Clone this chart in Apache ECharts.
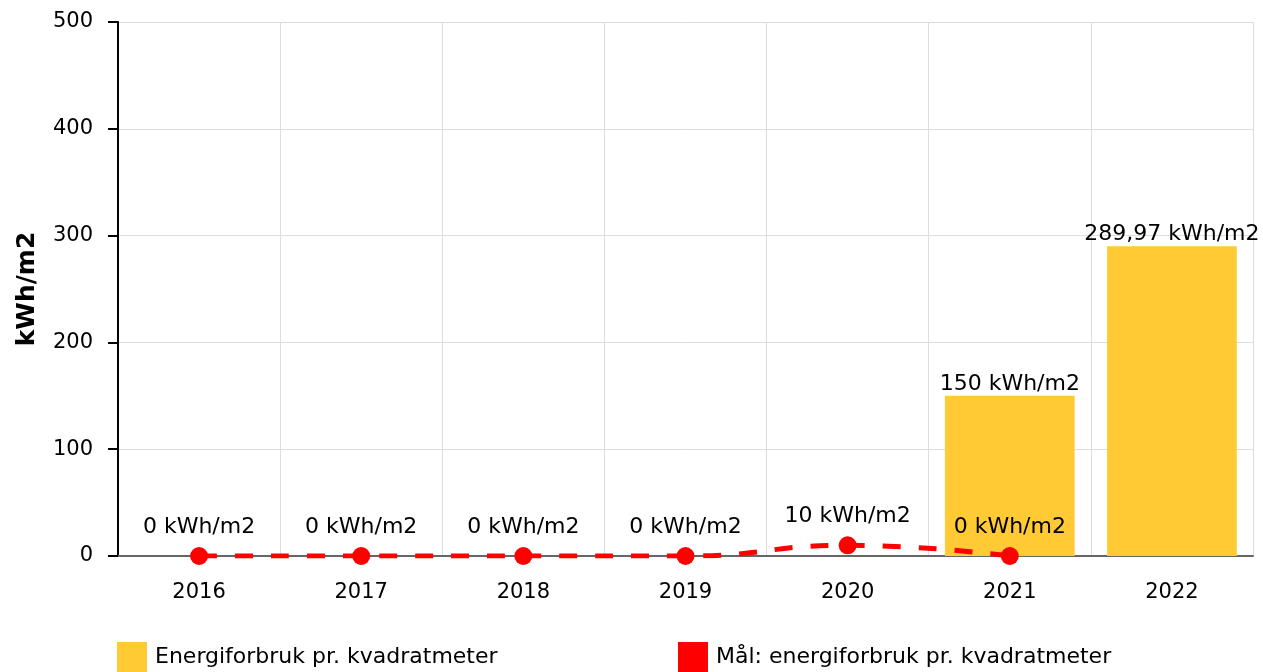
<!DOCTYPE html>
<html>
<head>
<meta charset="utf-8">
<script src="https://cdn.jsdelivr.net/npm/echarts@6/dist/echarts.min.js"></script>
<style>
  html, body { margin: 0; padding: 0; background: #fff; }
  #chart { width: 1263px; height: 672px; }
</style>
</head>
<body>
<div id="chart"></div>
<script>
// years on the x axis
const years = ['2016', '2017', '2018', '2019', '2020', '2021', '2022'];
// energy use per square metre (bars)
const usage = [null, null, null, null, null, 150, 289.97];
// target (dashed line)
const target = [0, 0, 0, 0, 10, 0, null];
const yTicks = [0, 100, 200, 300, 400, 500];

const fmt = v => String(v).replace('.', ',') + ' kWh/m2';
const font = 'DejaVu Sans, Verdana, sans-serif';

const legendBase = {
  top: 642, padding: 0, icon: 'rect', itemWidth: 30, itemHeight: 30,
  textStyle: { fontFamily: font, fontSize: 22, color: '#000', padding: [5, 0, 0, 3] }
};

const chart = echarts.init(document.getElementById('chart'));
chart.setOption({
  animation: false,
  textStyle: { fontFamily: font },
  grid: { left: 118, right: 10, top: 22, bottom: 116 },
  legend: [
    Object.assign({ data: ['Energiforbruk pr. kvadratmeter'], left: 117 }, legendBase),
    Object.assign({ data: ['Mål: energiforbruk pr. kvadratmeter'], left: 678 }, legendBase)
  ],
  xAxis: {
    type: 'category',
    data: years,
    axisLine: { lineStyle: { color: '#666', width: 2 } },
    axisTick: { alignWithLabel: true, length: 8, lineStyle: { color: '#999' } },
    axisLabel: { fontSize: 21, color: '#000', margin: 26 },
    splitLine: { show: true, lineStyle: { color: '#ddd' } }
  },
  yAxis: {
    type: 'value',
    min: yTicks[0], max: yTicks[yTicks.length - 1], interval: 100,
    name: 'kWh/m2',
    nameLocation: 'middle',
    nameGap: 78,
    nameTextStyle: { fontSize: 25, fontWeight: 'bold', color: '#000' },
    axisLine: { show: true, lineStyle: { color: '#000', width: 2 } },
    axisTick: { show: true, length: 10, lineStyle: { color: '#000', width: 2 } },
    axisLabel: { fontSize: 21, color: '#000', margin: 25 },
    splitLine: { lineStyle: { color: '#ddd' } }
  },
  series: [
    {
      name: 'Energiforbruk pr. kvadratmeter',
      type: 'bar',
      data: usage,
      barWidth: '80%',
      itemStyle: { color: '#FFCA33' },
      label: {
        show: true, position: 'top', distance: 1,
        fontSize: 22, color: '#000',
        formatter: p => fmt(p.value)
      }
    },
    {
      name: 'Mål: energiforbruk pr. kvadratmeter',
      type: 'line',
      data: target,
      smooth: true,
      symbol: 'circle',
      symbolSize: 18,
      itemStyle: { color: '#FF0000' },
      lineStyle: { color: '#FF0000', width: 5, type: [18, 18] },
      label: {
        show: true, position: 'top', distance: 9,
        fontSize: 22, color: '#000',
        formatter: p => fmt(p.value)
      }
    }
  ]
});
</script>
</body>
</html>
